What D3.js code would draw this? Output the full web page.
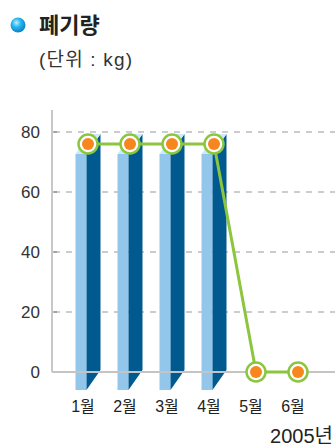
<!DOCTYPE html>
<html>
<head>
<meta charset="utf-8">
<script src="https://cdn.jsdelivr.net/npm/d3@7"></script>
<style>
  html, body { margin: 0; padding: 0; background: #fff; }
  svg { display: block; font-family: "Liberation Sans", "Noto Sans CJK KR", sans-serif; }
</style>
</head>
<body>
<svg id="chart" width="335" height="447"></svg>
<script>
// Monthly waste amounts (kg), 2005
const months = ["1월", "2월", "3월", "4월", "5월", "6월"];
const waste = [76, 76, 76, 76, 0, 0];
const yTicks = [0, 20, 40, 60, 80];
const title = "폐기량";
const unitLabel = "(단위 : kg)";
const yearLabel = "2005년";

const svg = d3.select("#chart");

const x = d3.scalePoint().domain(months).range([88, 298]);
const y = d3.scaleLinear().domain([0, 80]).range([372, 132]);

// Title with blue bullet
const defs = svg.append("defs");
const grad = defs.append("radialGradient").attr("id", "ball").attr("cx", "40%").attr("cy", "35%").attr("r", "65%");
grad.append("stop").attr("offset", "0%").attr("stop-color", "#bff0ff");
grad.append("stop").attr("offset", "45%").attr("stop-color", "#29b6ef");
grad.append("stop").attr("offset", "100%").attr("stop-color", "#0a82c8");
svg.append("circle").attr("cx", 18).attr("cy", 25).attr("r", 7.5).attr("fill", "url(#ball)");
svg.append("text").attr("x", 39).attr("y", 33).attr("font-size", 22).attr("font-weight", "bold")
  .attr("fill", "#222").text(title);
svg.append("text").attr("x", 39).attr("y", 66).attr("font-size", 19).attr("letter-spacing", 1.2)
  .attr("fill", "#333").attr("xml:space", "preserve").text(unitLabel);

// Gridlines
svg.append("g").selectAll("line").data(yTicks.filter(d => d > 0)).join("line")
  .attr("x1", 54).attr("x2", 335)
  .attr("y1", d => y(d)).attr("y2", d => y(d))
  .attr("stroke", "#999").attr("stroke-width", 1.2).attr("stroke-dasharray", "6,6");

// Y axis
const yAxis = d3.axisLeft(y).tickValues(yTicks).tickSize(0).tickPadding(12);
const gy = svg.append("g").attr("transform", "translate(52,0)").call(yAxis);
gy.select(".domain").remove();
gy.selectAll("text").attr("font-size", 17).attr("fill", "#333")
  .attr("font-family", "'Liberation Sans', sans-serif");
svg.append("line").attr("x1", 52).attr("x2", 52).attr("y1", 110).attr("y2", y(0))
  .attr("stroke", "#c8c8c8").attr("stroke-width", 2);
svg.append("g").selectAll("line").data(yTicks.filter(d => d > 0)).join("line")
  .attr("x1", 53).attr("x2", 57).attr("y1", d => y(d)).attr("y2", d => y(d))
  .attr("stroke", "#888").attr("stroke-width", 1.2);

// 3D bars (front face, side face, top face)
const w = 11, dx = 14, dy = 20, below = 18;
const barData = months.map((m, i) => ({ m, v: waste[i] })).filter(d => d.v > 0);
const bars = svg.append("g").selectAll("g").data(barData).join("g");
bars.each(function (d) {
  const g = d3.select(this);
  const fl = x(d.m) - (w + dx) / 2;
  const fr = fl + w;
  const ft = y(d.v) + dy / 2;
  const fb = y(0) + below;
  g.append("rect").attr("x", fl).attr("y", ft).attr("width", w).attr("height", fb - ft).attr("fill", "#92c7eb");
  g.append("path").attr("d", `M${fr},${ft} L${fr + dx},${ft - dy} L${fr + dx},${fb - dy} L${fr},${fb} Z`).attr("fill", "#005a90");
  g.append("path").attr("d", `M${fl},${ft} L${fl + dx},${ft - dy} L${fr + dx},${ft - dy} L${fr},${ft} Z`).attr("fill", "#cdeafa");
});

// Baseline at zero
svg.append("line").attr("x1", 52).attr("x2", 335).attr("y1", y(0)).attr("y2", y(0))
  .attr("stroke", "#c4c4c4").attr("stroke-width", 2);

// Line series with markers
const pts = months.map((m, i) => [x(m), y(waste[i])]);
svg.append("path").attr("d", d3.line()(pts)).attr("fill", "none")
  .attr("stroke", "#8cc63f").attr("stroke-width", 3);
const mk = svg.append("g").selectAll("g").data(pts).join("g")
  .attr("transform", d => `translate(${d[0]},${d[1]})`);
mk.append("circle").attr("r", 9.5).attr("fill", "#fff").attr("stroke", "#8cc63f").attr("stroke-width", 2.5);
mk.append("circle").attr("r", 6).attr("fill", "#f7861f");

// X labels
svg.append("g").selectAll("text").data(months).join("text")
  .attr("x", d => x(d) - 5).attr("y", 412).attr("text-anchor", "middle")
  .attr("font-size", 16).attr("fill", "#222").text(d => d);

svg.append("text").attr("x", 333).attr("y", 443).attr("text-anchor", "end")
  .attr("font-size", 20).attr("fill", "#222").text(yearLabel);
</script>
</body>
</html>
